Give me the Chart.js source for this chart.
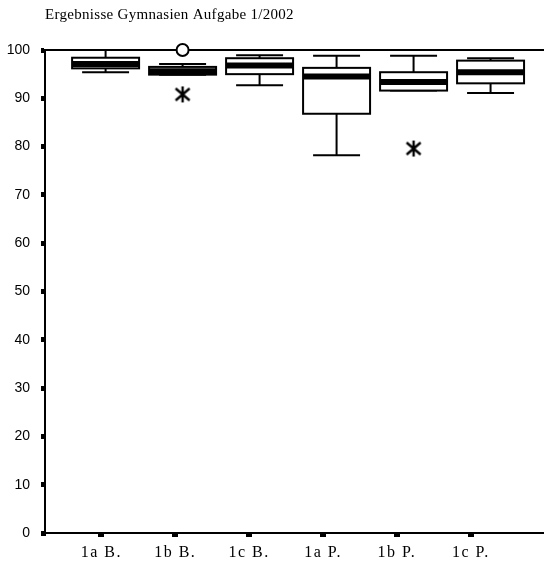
<!DOCTYPE html>
<html>
<head>
<meta charset="utf-8">
<script src="https://cdn.jsdelivr.net/npm/chart.js@4"></script>
<style>
  html, body { margin: 0; padding: 0; background: #fff; }
  #wrap { width: 544px; height: 567px; }
</style>
</head>
<body>
<div id="wrap"><canvas id="chart" width="544" height="567"></canvas></div>
<script>
// box plot values
const categories = ["1a B.", "1b B.", "1c B.", "1a P.", "1b P.", "1c P."];
const whiskerLow = [95.4, 94.9, 92.7, 78.2, 91.6, 91.1];
const q1 = [96.2, 94.9, 95.0, 86.8, 91.6, 93.1];
const medians = [97.1, 95.6, 96.8, 94.5, 93.4, 95.4];
const q3 = [98.4, 96.5, 98.3, 96.3, 95.4, 97.8];
const whiskerHigh = [100, 97.1, 98.9, 98.8, 98.8, 98.3];
const circleOutliers = [{ x: 2, y: 100 }];
const starOutliers = [{ x: 2, y: 90.8 }, { x: 5, y: 79.6 }];
const yTicks = [0, 10, 20, 30, 40, 50, 60, 70, 80, 90, 100];

// six armed asterisk like the SPSS extreme marker
function makeStar() {
  const c = document.createElement("canvas");
  c.width = 18;
  c.height = 18;
  const g = c.getContext("2d");
  g.strokeStyle = "#000";
  g.lineWidth = 2.4;
  g.beginPath();
  g.moveTo(9, 1);
  g.lineTo(9, 17);
  g.moveTo(2, 3);
  g.lineTo(16, 15);
  g.moveTo(16, 3);
  g.lineTo(2, 15);
  g.stroke();
  return c;
}

const boxPlugin = {
  id: "boxes",
  beforeDatasetsDraw(chart) {
    const ctx = chart.ctx;
    const xs = chart.scales.x2;
    const ys = chart.scales.y;
    const boxW = 0.87;
    const capW = 0.61;
    ctx.save();
    ctx.strokeStyle = "#000";
    categories.forEach((c, i) => {
      const cx = xs.getPixelForValue(i + 1);
      const hb = xs.getPixelForValue(i + 1 + boxW / 2) - cx;
      const hc = xs.getPixelForValue(i + 1 + capW / 2) - cx;
      const yLo = ys.getPixelForValue(whiskerLow[i]);
      const yHi = ys.getPixelForValue(whiskerHigh[i]);
      const y1 = ys.getPixelForValue(q1[i]);
      const y3 = ys.getPixelForValue(q3[i]);
      const ym = ys.getPixelForValue(medians[i]);

      // whiskers
      ctx.lineWidth = 2;
      ctx.beginPath();
      ctx.moveTo(cx, yHi);
      ctx.lineTo(cx, y3);
      ctx.moveTo(cx, y1);
      ctx.lineTo(cx, yLo);
      ctx.moveTo(cx - hc, yHi);
      ctx.lineTo(cx + hc, yHi);
      ctx.moveTo(cx - hc, yLo);
      ctx.lineTo(cx + hc, yLo);
      ctx.stroke();

      // box
      ctx.fillStyle = "#fff";
      ctx.fillRect(cx - hb, y3, hb * 2, y1 - y3);
      ctx.lineWidth = 2;
      ctx.strokeRect(cx - hb, y3, hb * 2, y1 - y3);

      // median
      ctx.lineWidth = 6;
      ctx.beginPath();
      ctx.moveTo(cx - hb, ym);
      ctx.lineTo(cx + hb, ym);
      ctx.stroke();
    });
    ctx.restore();
  },
};

// letter spacing for the serif texts (SPSS style)
const spacingPlugin = {
  id: "spacing",
  afterLayout(chart) {
    const wrapSpacing = (obj, fn, sp) => {
      if (!obj || obj["_sp_" + fn]) return;
      const orig = obj[fn].bind(obj);
      obj[fn] = function (...args) {
        const ctx = chart.ctx;
        const old = ctx.letterSpacing;
        ctx.letterSpacing = sp;
        orig(...args);
        ctx.letterSpacing = old;
      };
      obj["_sp_" + fn] = true;
    };
    wrapSpacing(chart.scales.x, "drawLabels", "1.5px");
    wrapSpacing(chart.titleBlock, "draw", "0.3px");
  },
};

const ctx = document.getElementById("chart").getContext("2d");
new Chart(ctx, {
  type: "scatter",
  data: {
    datasets: [
      {
        data: circleOutliers,
        xAxisID: "x2",
        yAxisID: "y",
        pointStyle: "circle",
        pointRadius: 6,
        pointBorderWidth: 2,
        pointBackgroundColor: "#fff",
        pointBorderColor: "#000",
        clip: false,
      },
      {
        data: starOutliers,
        xAxisID: "x2",
        yAxisID: "y",
        pointStyle: makeStar(),
        clip: false,
      },
    ],
  },
  options: {
    responsive: false,
    animation: false,
    layout: { autoPadding: false, padding: { top: 0, right: 0, bottom: 0, left: 0 } },
    plugins: {
      legend: { display: false },
      tooltip: { enabled: false },
      title: {
        display: true,
        text: "Ergebnisse Gymnasien Aufgabe 1/2002",
        align: "start",
        fullSize: false,
        color: "#000",
        font: { family: "Liberation Serif", size: 15, weight: "normal", lineHeight: 1.2 },
        padding: { top: 6, bottom: 26 },
      },
    },
    scales: {
      x: {
        type: "linear",
        position: "bottom",
        min: 0.238,
        max: 6.99,
        afterBuildTicks: (s) => {
          s.ticks = categories.map((c, i) => ({ value: i + 1 }));
        },
        afterFit: (s) => {
          s.height = 34;
          s.paddingRight = 0;
          s.paddingLeft = 0;
        },
        ticks: {
          callback: (v) => categories[v - 1],
          color: "#000",
          font: { family: "Liberation Serif", size: 16 },
          padding: 6,
          maxRotation: 0,
          autoSkip: false,
        },
        grid: {
          display: true,
          drawOnChartArea: false,
          drawTicks: true,
          tickLength: 4,
          lineWidth: 6,
          color: "#000",
        },
        border: { display: true, width: 2, color: "#000" },
      },
      x2: {
        type: "linear",
        position: "top",
        min: 0.213,
        max: 6.694,
        afterFit: (s) => {
          s.height = 0;
          s.paddingRight = 0;
          s.paddingLeft = 0;
        },
        ticks: { display: false },
        grid: { display: false, drawTicks: false },
        border: { display: true, width: 2, color: "#000" },
      },
      y: {
        type: "linear",
        min: 0,
        max: 100,
        afterBuildTicks: (s) => {
          s.ticks = yTicks.map((v) => ({ value: v }));
        },
        afterFit: (s) => {
          s.width = 45;
        },
        ticks: {
          color: "#000",
          font: { family: "Liberation Sans", size: 14 },
          padding: 11,
        },
        grid: {
          display: true,
          drawOnChartArea: false,
          drawTicks: true,
          tickLength: 4,
          lineWidth: 5,
          color: "#000",
        },
        border: { display: true, width: 2, color: "#000" },
      },
    },
  },
  plugins: [boxPlugin, spacingPlugin],
});
</script>
</body>
</html>
